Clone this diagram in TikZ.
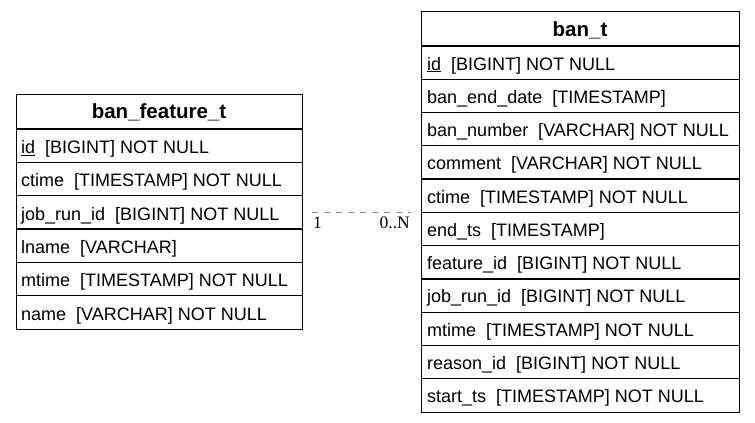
\documentclass[tikz,border=0pt]{standalone}
\usepackage{fontspec}
\setmainfont{Liberation Sans}
\newfontfamily\cardfont{Liberation Serif}
\begin{document}
\begin{tikzpicture}[x=1pt,y=-1pt,
  tbl/.style={draw=black, line width=1.3pt, rectangle, inner sep=0pt, anchor=north west},
  sep/.style={draw=black, line width=1.3pt},
  hdr/.style={font=\fontsize{20.5}{24}\selectfont\bfseries, anchor=base, inner sep=0pt},
  fld/.style={font=\fontsize{18}{22}\selectfont, anchor=base west, inner sep=0pt},
  rel/.style={draw=black!45, line width=0.8pt, dash pattern=on 6pt off 6pt},
  card/.style={font=\cardfont\fontsize{17.5}{20}\selectfont, inner sep=0pt}
]
\useasboundingbox (0,0) rectangle (755,423);
\fill[white] (0,0) rectangle (755,423);

% ban_feature_t
\node[tbl, minimum width=286pt, minimum height=235pt] (bft) at (16,94) {};
\node[hdr] (bfth) at (159,118.5) {ban\_feature\_t};
\draw[sep] (16,129) -- (302,129);
\foreach \t [count=\i] in {
  {\underline{id}~~[BIGINT] NOT NULL},
  {ctime~~[TIMESTAMP] NOT NULL},
  {job\_run\_id~~[BIGINT] NOT NULL},
  {lname~~[VARCHAR]},
  {mtime~~[TIMESTAMP] NOT NULL},
  {name~~[VARCHAR] NOT NULL}}{
  \pgfmathsetmacro\top{129+(\i-1)*33.333}
  \node[fld] (bftr\i) at (21,\top+24.5) {\t};
  \ifnum\i>1 \draw[sep] (16,\top) -- (302,\top); \fi
}

% ban_t
\node[tbl, minimum width=318pt, minimum height=401pt] (bt) at (421,11) {};
\node[hdr] (bth) at (580,36) {ban\_t};
\draw[sep] (421,46) -- (739,46);
\foreach \t [count=\i] in {
  {\underline{id}~~[BIGINT] NOT NULL},
  {ban\_end\_date~~[TIMESTAMP]},
  {ban\_number~~[VARCHAR] NOT NULL},
  {comment~~[VARCHAR] NOT NULL},
  {ctime~~[TIMESTAMP] NOT NULL},
  {end\_ts~~[TIMESTAMP]},
  {feature\_id~~[BIGINT] NOT NULL},
  {job\_run\_id~~[BIGINT] NOT NULL},
  {mtime~~[TIMESTAMP] NOT NULL},
  {reason\_id~~[BIGINT] NOT NULL},
  {start\_ts~~[TIMESTAMP] NOT NULL}}{
  \pgfmathsetmacro\top{46+(\i-1)*33.273}
  \node[fld] (btr\i) at (427,\top+24) {\t};
  \ifnum\i>1 \draw[sep] (421,\top) -- (739,\top); \fi
}

% relation
\coordinate (ra) at (302,212.5);
\coordinate (rb) at (421,212.5);
\draw[rel, shorten <=10pt, shorten >=10pt] (ra) -- (rb);
\node[card, anchor=base west] (c1) at (313,228) {1};
\node[card, anchor=base east] (c2) at (410,228) {0..N};
\end{tikzpicture}
\end{document}
